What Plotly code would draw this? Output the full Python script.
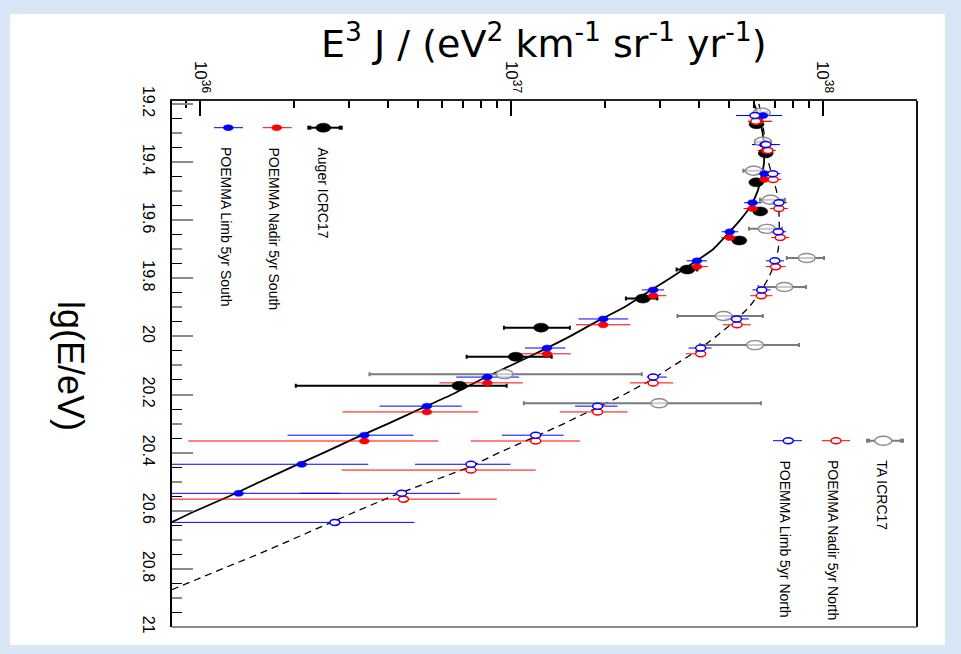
import math
import plotly.graph_objects as go

# ---------------- data ----------------
auger_lgE = [19.27, 19.37, 19.47, 19.57, 19.67, 19.77, 19.87, 19.97, 20.07, 20.17]
auger_flux = [6.12e37, 6.55e37, 6.11e37, 6.29e37, 5.39e37, 3.67e37, 2.64e37, 1.244e37, 1.032e37, 6.80e36]
auger_lo = [5.94e37, 6.36e37, 5.93e37, 6.10e37, 5.18e37, 3.39e37, 2.33e37, 9.46e36, 7.18e36, 2.03e36]
auger_hi = [6.31e37, 6.74e37, 6.29e37, 6.51e37, 5.62e37, 3.95e37, 2.94e37, 1.54e37, 1.346e37, 9.65e36]

ta_lgE = [19.23, 19.33, 19.43, 19.53, 19.63, 19.73, 19.83, 19.93, 20.03, 20.13, 20.23]
ta_flux = [6.36e37, 6.42e37, 6.00e37, 6.79e37, 6.60e37, 8.87e37, 7.52e37, 4.80e37, 6.05e37, 9.50e36, 2.98e37]
ta_lo = [6.08e37, 6.05e37, 5.55e37, 6.28e37, 5.79e37, 7.65e37, 6.20e37, 3.41e37, 4.03e37, 3.50e36, 1.096e37]
ta_hi = [6.64e37, 6.81e37, 6.46e37, 7.55e37, 7.39e37, 1.008e38, 8.82e37, 6.41e37, 8.38e37, 2.62e37, 6.32e37]

nadir_s_lgE = [19.26, 19.36, 19.46, 19.56, 19.66, 19.76, 19.86, 19.96, 20.06, 20.16, 20.26, 20.36]
nadir_s_flux = [6.20e37, 6.55e37, 6.49e37, 5.94e37, 5.02e37, 3.94e37, 2.85e37, 1.97e37, 1.30e37, 8.36e36, 5.35e36, 3.37e36]
nadir_s_lo = [5.74e37, 6.17e37, 6.09e37, 5.56e37, 4.71e37, 3.62e37, 2.59e37, 1.61e37, 1.065e37, 5.87e36, 2.87e36, 9.17e35]
nadir_s_hi = [6.84e37, 6.95e37, 6.86e37, 6.36e37, 5.38e37, 4.27e37, 3.14e37, 2.41e37, 1.55e37, 1.087e37, 7.82e36, 5.82e36]

limb_s_lgE = [19.24, 19.34, 19.44, 19.54, 19.64, 19.74, 19.84, 19.94, 20.04, 20.14, 20.24, 20.34, 20.44, 20.54]
limb_s_flux = [6.42e37, 6.49e37, 6.49e37, 5.94e37, 5.02e37, 3.94e37, 2.85e37, 1.97e37, 1.30e37, 8.36e36, 5.35e36, 3.37e36, 2.12e36, 1.33e36]
limb_s_lo = [5.26e37, 5.92e37, 6.09e37, 5.58e37, 4.73e37, 3.65e37, 2.62e37, 1.64e37, 1.105e37, 6.64e36, 3.77e36, 1.91e36, 5.0e35, 2.0e35]
limb_s_hi = [7.39e37, 7.12e37, 6.86e37, 6.36e37, 5.35e37, 4.24e37, 3.09e37, 2.37e37, 1.49e37, 1.057e37, 6.92e36, 4.84e36, 3.47e36, 2.81e36]

nadir_n_lgE = [19.26, 19.36, 19.46, 19.56, 19.66, 19.76, 19.86, 19.96, 20.06, 20.16, 20.26, 20.36, 20.46, 20.56]
nadir_n_flux = [6.09e37, 6.66e37, 6.92e37, 7.22e37, 7.29e37, 7.05e37, 6.34e37, 5.30e37, 4.05e37, 2.85e37, 1.89e37, 1.196e37, 7.41e36, 4.50e36]
nadir_n_lo = [5.74e37, 6.28e37, 6.53e37, 6.76e37, 6.82e37, 6.55e37, 5.85e37, 4.78e37, 3.63e37, 2.40e37, 1.43e37, 7.40e36, 2.85e36, 7.1e35]
nadir_n_hi = [6.84e37, 7.06e37, 7.35e37, 7.72e37, 7.80e37, 7.59e37, 6.88e37, 5.87e37, 4.21e37, 3.31e37, 2.36e37, 1.66e37, 1.196e37, 8.97e36]

limb_n_lgE = [19.24, 19.34, 19.44, 19.54, 19.64, 19.74, 19.84, 19.94, 20.04, 20.14, 20.24, 20.34, 20.44, 20.54, 20.64]
limb_n_flux = [6.05e37, 6.56e37, 6.90e37, 7.22e37, 7.19e37, 7.01e37, 6.36e37, 5.28e37, 4.05e37, 2.85e37, 1.89e37, 1.196e37, 7.41e36, 4.44e36, 2.71e36]
limb_n_lo = [5.26e37, 5.92e37, 6.50e37, 6.81e37, 6.77e37, 6.56e37, 5.94e37, 4.83e37, 3.70e37, 2.72e37, 1.60e37, 9.31e36, 4.90e36, 2.09e36, 6.3e35]
limb_n_hi = [7.39e37, 7.28e37, 7.31e37, 7.66e37, 7.62e37, 7.50e37, 6.79e37, 5.78e37, 4.39e37, 3.15e37, 2.19e37, 1.47e37, 9.94e36, 6.84e36, 4.88e36]

fit_s_lgE = [19.20, 19.25, 19.30, 19.35, 19.40, 19.45, 19.50, 19.55, 19.60, 19.65, 19.70,
             19.75, 19.80, 19.85, 19.90, 19.95, 20.00, 20.05, 20.10, 20.15, 20.20, 20.25,
             20.30, 20.35, 20.40, 20.45, 20.50, 20.55, 20.60, 20.65, 20.70]
fit_s_flux = [6.01e37, 6.25e37, 6.40e37, 6.47e37, 6.47e37, 6.35e37, 6.17e37, 5.87e37, 5.42e37, 4.92e37, 4.44e37,
              3.80e37, 3.23e37, 2.72e37, 2.30e37, 1.87e37, 1.54e37, 1.245e37, 9.95e36, 7.93e36, 6.44e36, 5.08e36,
              4.02e36, 3.15e36, 2.50e36, 1.97e36, 1.56e36, 1.24e36, 9.70e35, 7.73e35, 6.10e35]

fit_n_lgE = [19.20, 19.25, 19.30, 19.35, 19.40, 19.45, 19.50, 19.55, 19.60, 19.65, 19.70, 19.75,
             19.80, 19.85, 19.90, 19.95, 20.00, 20.05, 20.10, 20.15, 20.20, 20.25, 20.30, 20.35,
             20.40, 20.45, 20.50, 20.55, 20.60, 20.65, 20.70, 20.75, 20.80, 20.85, 20.90]
fit_n_flux = [6.23e37, 6.37e37, 6.47e37, 6.56e37, 6.68e37, 6.89e37, 7.10e37, 7.22e37, 7.25e37, 7.25e37, 7.19e37, 7.01e37,
              6.68e37, 6.28e37, 5.79e37, 5.18e37, 4.54e37, 3.94e37, 3.32e37, 2.81e37, 2.30e37, 1.84e37, 1.475e37, 1.164e37,
              9.12e36, 7.31e36, 5.47e36, 4.13e36, 3.21e36, 2.52e36, 1.96e36, 1.535e36, 1.177e36, 9.08e35, 7.01e35]

x_tickvals = [1e36, 1e37, 1e38]
x_ticktext = ["10<sup>36</sup>", "10<sup>37</sup>", "10<sup>38</sup>"]
y_tickvals = [19.2, 19.4, 19.6, 19.8, 20.0, 20.2, 20.4, 20.6, 20.8, 21.0]
y_ticktext = ["19.2", "19.4", "19.6", "19.8", "20", "20.2", "20.4", "20.6", "20.8", "21"]

legend_left = ["POEMMA Limb 5yr South", "POEMMA Nadir 5yr South", "Auger ICRC17"]
legend_right = ["POEMMA Limb 5yr North", "POEMMA Nadir 5yr North", "TA ICRC17"]

# ---------------- styles ----------------
SANS = "Liberation Sans, Arial, sans-serif"
BLUE, RED, GREY, BLACK = "#0000ff", "#ff0000", "#8c8c8c", "#000000"
PAGE_BG = "#d9e6f5"
LOG_RANGE = [35.910, 38.302]

fig = go.Figure()


def err_trace(xv, yv, lo, hi, color, thick, capw):
    fig.add_trace(go.Scatter(
        x=xv, y=yv, mode="markers",
        marker=dict(size=1, color="rgba(0,0,0,0)"),
        error_x=dict(type="data", symmetric=False,
                     array=[h - v for h, v in zip(hi, xv)],
                     arrayminus=[v - l for v, l in zip(xv, lo)],
                     color=color, thickness=thick, width=capw),
        showlegend=False, hoverinfo="skip"))


# fit curves
fig.add_trace(go.Scatter(x=fit_n_flux, y=fit_n_lgE, mode="lines",
                         line=dict(color=BLACK, width=1.3, dash="7px,5px"),
                         showlegend=False, hoverinfo="skip"))
fig.add_trace(go.Scatter(x=fit_s_flux, y=fit_s_lgE, mode="lines",
                         line=dict(color=BLACK, width=1.8, shape="spline", smoothing=0.6),
                         showlegend=False, hoverinfo="skip"))

err_trace(ta_flux, ta_lgE, ta_lo, ta_hi, "#7a7a7a", 2, 2)
err_trace(auger_flux, auger_lgE, auger_lo, auger_hi, BLACK, 2, 2)
err_trace(nadir_s_flux, nadir_s_lgE, nadir_s_lo, nadir_s_hi, RED, 1, 0)
err_trace(nadir_n_flux, nadir_n_lgE, nadir_n_lo, nadir_n_hi, RED, 1, 0)
err_trace(limb_s_flux, limb_s_lgE, limb_s_lo, limb_s_hi, BLUE, 1, 0)
err_trace(limb_n_flux, limb_n_lgE, limb_n_lo, limb_n_hi, BLUE, 1, 0)

# invisible traces so that the overlay axes exist
fig.add_trace(go.Scatter(x=[None], y=[None], yaxis="y2", mode="markers",
                         showlegend=False, hoverinfo="skip"))
fig.add_trace(go.Scatter(x=[None], y=[None], xaxis="x2", mode="markers",
                         showlegend=False, hoverinfo="skip"))

shapes = []


def ellipse(xa, ya, w, h, line_color, fill, lw, xref="x2", yref="y"):
    shapes.append(dict(type="circle", xref=xref, yref=yref,
                       xsizemode="pixel", ysizemode="pixel",
                       xanchor=xa, yanchor=ya,
                       x0=-w / 2, x1=w / 2, y0=-h / 2, y1=h / 2,
                       fillcolor=fill, line=dict(color=line_color, width=lw),
                       layer="above"))


def markers(flux, lgE, *style):
    # markers are placed on a linear twin axis expressed in log10(flux)
    for xv, yv in zip(flux, lgE):
        ellipse(math.log10(xv), yv, *style)


markers(ta_flux, ta_lgE, 17, 9, GREY, "rgba(255,255,255,0.6)", 1.4)
markers(auger_flux, auger_lgE, 15, 9, BLACK, BLACK, 0.5)
markers(nadir_s_flux, nadir_s_lgE, 10, 6, RED, RED, 0.5)
markers(nadir_n_flux, nadir_n_lgE, 10, 6, RED, "white", 1.5)
markers(limb_s_flux, limb_s_lgE, 10, 6, BLUE, BLUE, 0.5)
markers(limb_n_flux, limb_n_lgE, 10, 6, BLUE, "white", 1.5)

# ----- layout geometry (plot area 172..917 x 101..627 px) -----
W, H = 961, 654
L, R, T, B = 172, 44, 101, 27
PW, PH = W - L - R, H - T - B


def px(xp):
    return (xp - L) / PW


def py(yp):
    return (H - B - yp) / PH


# white panel behind chart
shapes.insert(0, dict(type="rect", xref="paper", yref="paper", layer="below",
                      x0=px(10), x1=px(945), y0=py(645), y1=py(14),
                      fillcolor="white", line=dict(width=0)))
# frame: right (black) and bottom (grey)
shapes.append(dict(type="line", xref="paper", yref="paper", x0=1, x1=1, y0=0, y1=1,
                   line=dict(color="#111111", width=2), layer="above"))
shapes.append(dict(type="line", xref="paper", yref="paper", x0=0, x1=1, y0=0, y1=0,
                   line=dict(color="#8a8a8a", width=2), layer="above"))


def legend_item(x0, x1, xm, yy, color, thick, caps, mk):
    shapes.append(dict(type="line", xref="paper", yref="paper", x0=px(x0), x1=px(x1),
                       y0=py(yy), y1=py(yy), line=dict(color=color, width=thick), layer="above"))
    if caps:
        for xc in (x0, x1):
            shapes.append(dict(type="rect", xref="paper", yref="paper",
                               xsizemode="pixel", ysizemode="pixel",
                               xanchor=px(xc), yanchor=py(yy), x0=-2, x1=2, y0=-2, y1=2,
                               fillcolor=color, line=dict(width=0), layer="above"))
    ellipse(px(xm), py(yy), *mk, xref="paper", yref="paper")


legend_item(214, 243, 228.3, 127.7, BLUE, 1, False, (10, 6, BLUE, BLUE, 0.5))
legend_item(262.7, 291.7, 276.7, 127.7, RED, 1, False, (10, 6, RED, RED, 0.5))
legend_item(309.3, 340.7, 323.3, 127.7, BLACK, 2, True, (15, 9, BLACK, BLACK, 0.5))
legend_item(773, 802, 788.3, 440.7, BLUE, 1, False, (10, 6, BLUE, "white", 1.5))
legend_item(821.7, 850, 836, 440.7, RED, 1, False, (10, 6, RED, "white", 1.5))
legend_item(868, 902, 883.3, 440.7, "#7a7a7a", 2, True, (17, 9, GREY, "white", 1.4))

annotations = []
for txt, xc in zip(legend_left, (226, 274, 323)):
    annotations.append(dict(text=txt, xref="paper", yref="paper", x=px(xc), y=py(145),
                            xanchor="center", yanchor="top", textangle=90, showarrow=False,
                            font=dict(family=SANS, size=14, color=BLACK)))
for txt, xc in zip(legend_right, (785, 833, 881.7)):
    annotations.append(dict(text=txt, xref="paper", yref="paper", x=px(xc), y=py(458),
                            xanchor="center", yanchor="top", textangle=90, showarrow=False,
                            font=dict(family=SANS, size=14, color=BLACK)))
annotations.append(dict(
    text="E<sup>3</sup> J / (eV<sup>2</sup> km<sup>-1</sup> sr<sup>-1</sup> yr<sup>-1</sup>)",
    xref="paper", yref="paper", x=px(544), y=py(41), xanchor="center", yanchor="middle",
    showarrow=False, font=dict(family="DejaVu Sans, " + SANS, size=38, color=BLACK)))
annotations.append(dict(text="lg(E/eV)", xref="paper", yref="paper", x=px(70), y=py(366),
                        xanchor="center", yanchor="middle", textangle=90, showarrow=False,
                        font=dict(family=SANS, size=36, color=BLACK)))

y_range = [21.0, 19.19]
fig.update_layout(
    width=W, height=H,
    margin=dict(l=L, r=R, t=T, b=B, pad=0),
    paper_bgcolor=PAGE_BG, plot_bgcolor="white",
    showlegend=False,
    shapes=shapes, annotations=annotations,
    xaxis=dict(type="log", range=LOG_RANGE, side="top",
               showline=True, linecolor="#222222", linewidth=2, mirror=False,
               showgrid=False, zeroline=False,
               ticks="inside", ticklen=15, tickwidth=2, tickcolor=BLACK,
               tickvals=x_tickvals, ticktext=x_ticktext, tickangle=90,
               tickfont=dict(family=SANS, size=17, color=BLACK),
               minor=dict(ticks="inside", ticklen=7, tickwidth=1.5, tickcolor=BLACK,
                          tickvals=[9e35, 2e36, 3e36, 4e36, 5e36, 6e36, 7e36, 8e36, 9e36,
                                    2e37, 3e37, 4e37, 5e37, 6e37, 7e37, 8e37, 9e37, 2e38])),
    xaxis2=dict(type="linear", range=LOG_RANGE, overlaying="x", anchor="y", side="top",
                visible=False, showgrid=False, zeroline=False),
    yaxis=dict(range=y_range, showline=True, linecolor=BLACK, linewidth=2,
               showgrid=False, zeroline=False,
               ticks="inside", ticklen=21, tickwidth=2, tickcolor="#8a8a8a",
               tickvals=y_tickvals, ticktext=y_ticktext, tickangle=90,
               ticklabelstandoff=8,
               tickfont=dict(family=SANS, size=16, color=BLACK),
               minor=dict(ticks="inside", ticklen=10, tickwidth=2, tickcolor="#8a8a8a",
                          tickvals=[19.3, 19.5, 19.7, 19.9, 20.1, 20.3, 20.5, 20.7, 20.9])),
    yaxis2=dict(range=y_range, overlaying="y", anchor="x", side="left",
                showline=False, showgrid=False, zeroline=False, showticklabels=False,
                ticks="inside", ticklen=10, tickwidth=1.3, tickcolor=BLACK,
                tickvals=[19.25, 19.35, 19.45, 19.55, 19.65, 19.75, 19.85, 19.95, 20.05,
                          20.15, 20.25, 20.35, 20.45, 20.55, 20.65, 20.75, 20.85, 20.95]),
)

fig.write_html(
    "out.html",
    config={"displayModeBar": False},
    post_script="document.body.style.margin='0px';document.body.style.background='%s';" % PAGE_BG,
)
